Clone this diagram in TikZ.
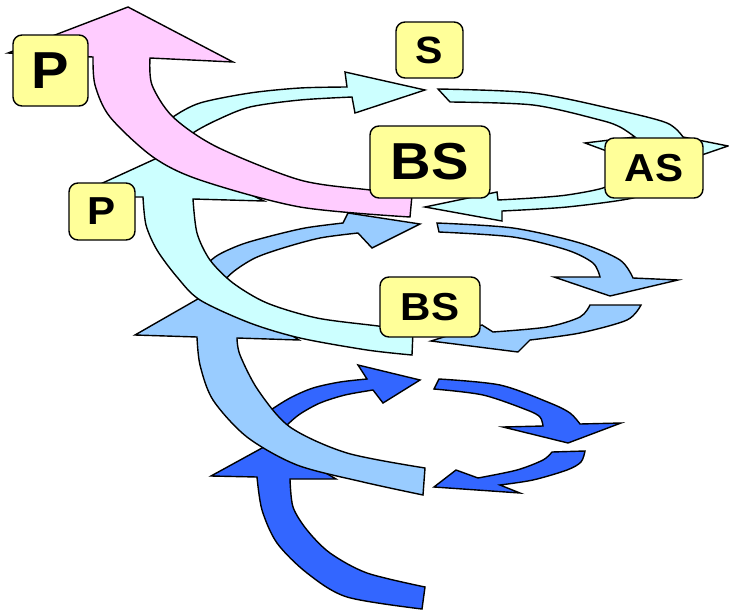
\documentclass[tikz,border=0pt]{standalone}
\usepackage{fontspec}
\setmainfont{Liberation Sans}
\newfontfamily\lblfont{Liberation Sans}[FakeStretch=1.08]
\definecolor{darkb}{HTML}{3366FF}
\definecolor{lightb}{HTML}{99CCFF}
\definecolor{cyanc}{HTML}{CCFFFF}
\definecolor{pinkc}{HTML}{FFCCFF}
\definecolor{boxy}{HTML}{FFFF99}
\begin{document}
\begin{tikzpicture}[x=1pt,y=-1pt,
  shp/.style={draw=black,line width=1.4pt,line join=miter,miter limit=10},
  lbl/.style={draw=black,fill=boxy,line width=1.4pt,rounded corners=9pt,inner sep=0pt}]
\useasboundingbox (0,0) rectangle (729,611);

% ---------- dark blue level ----------
\filldraw[shp,fill=darkb] plot[smooth] coordinates {(255,424) (268,412) (290,398) (313,388) (340,382) (367,379)}
  -- (358,365) -- (420,380) -- (383,403) -- (373,390)
  -- plot[smooth] coordinates {(373,390) (345,395) (320,403) (300,414) (287,425) (272,440)} -- cycle;
\filldraw[shp,fill=darkb] plot[smooth] coordinates {(439,379) (500,385) (550,403) (570,413) (580,424)}
  -- (621,423) -- (568,443) -- (503,427) -- (543,426)
  -- plot[smooth] coordinates {(543,426) (540,417) (527,410) (483,395) (434,389)} -- cycle;
\filldraw[shp,fill=darkb] (552,452) -- (585,451)
  -- plot[smooth] coordinates {(585,451) (581,462) (567,470) (533,480) (500,485)}
  -- (520,493) -- (434,487) -- (456,470) -- (478,478)
  -- plot[smooth] coordinates {(478,478) (517,470) (543,460) (552,452)} -- cycle;
\filldraw[shp,fill=darkb] plot[smooth] coordinates {(425,587) (367,573) (330,553) (307,530) (293,507) (290,479)}
  -- (336,479) -- (273,442) -- (211,476) -- (257,477)
  -- plot[smooth] coordinates {(257,477) (262,510) (277,543) (307,573) (347,597) (422,609)} -- cycle;

% ---------- light blue level ----------
\filldraw[shp,fill=lightb] plot[smooth] coordinates {(195,277) (215,257) (240,245) (267,237) (305,228) (343,223)}
  -- (348,213) -- (420,224) -- (372,248) -- (358,233)
  -- plot[smooth] coordinates {(358,233) (320,238) (283,248) (255,258) (233,272) (215,290)} -- cycle;
\filldraw[shp,fill=lightb] plot[smooth] coordinates {(437,223) (513,228) (580,243) (620,260) (633,278)}
  -- (678,280) -- (610,296) -- (554,277) -- (600,277)
  -- plot[smooth] coordinates {(600,277) (593,263) (567,250) (513,237) (439,232)} -- cycle;
\filldraw[shp,fill=lightb] (590,305) -- (641,305)
  -- plot[smooth] coordinates {(641,305) (627,320) (580,333) (530,340)}
  -- (518,352) -- (431,341) -- (482,325) -- (493,332)
  -- plot[smooth] coordinates {(493,332) (547,327) (580,317) (590,305)} -- cycle;
\filldraw[shp,fill=lightb] plot[smooth] coordinates {(425,468) (347,453) (290,427) (258,390) (240,355) (237,338)}
  -- (299,340) -- (217,288) -- (135,335) -- (197,337)
  -- plot[smooth] coordinates {(197,337) (200,365) (213,400) (247,437) (297,465) (363,482) (423,495)} -- cycle;

% ---------- cyan level ----------
\filldraw[shp,fill=cyanc] plot[smooth] coordinates {(158,132) (173,117) (200,103) (250,93) (300,88) (347,87)}
  -- (345,72) -- (425,90) -- (355,113) -- (352,97)
  -- plot[smooth] coordinates {(352,97) (300,100) (250,107) (217,120) (193,133) (178,148)} -- cycle;
\filldraw[shp,fill=cyanc] plot[smooth] coordinates {(438,89) (533,93) (617,110) (667,123) (683,137)}
  -- (728,146) -- (658,170) -- (585,143) -- (635,137)
  -- plot[smooth] coordinates {(635,137) (620,127) (600,120) (533,105) (450,102)} -- cycle;
\filldraw[shp,fill=cyanc] (628,176) -- (660,186)
  -- plot[smooth] coordinates {(660,186) (633,198) (567,207) (502,211)}
  -- (502,221) -- (425,207) -- (497,192) -- (498,200)
  -- plot[smooth] coordinates {(498,200) (533,198) (567,195) (603,188) (628,176)} -- cycle;
\filldraw[shp,fill=cyanc] plot[smooth] coordinates {(413,331) (378,326) (317,318) (267,303) (233,283) (210,260) (197,233) (193,199)}
  -- (264,201) -- (166,154) -- (72,197) -- (143,197)
  -- plot[smooth] coordinates {(143,197) (146,225) (157,250) (177,277) (200,300) (250,323) (300,338) (367,350) (412,355)} -- cycle;

% ---------- pink arrow ----------
\filldraw[shp,fill=pinkc] plot[smooth] coordinates {(412,195) (370,190) (300,180) (217,147) (173,117) (152,85) (150,58)}
  -- (233,62) -- (128,7) -- (8,53) -- (93,57)
  -- plot[smooth] coordinates {(93,57) (95,85) (110,117) (153,157) (200,180) (300,207) (410,217)} -- cycle;

% ---------- labels ----------
\node[lbl,minimum width=75pt,minimum height=71pt,font=\lblfont\bfseries\fontsize{52}{52}\selectfont] (pbig) at (50.5,70.5) {P};
\node[lbl,minimum width=66pt,minimum height=57pt,font=\lblfont\bfseries\fontsize{39}{39}\selectfont] (psmall) at (102,211.5) {P};
\node[lbl,minimum width=67pt,minimum height=56pt,font=\lblfont\bfseries\fontsize{38}{38}\selectfont] (s) at (429.5,50) {S};
\node[lbl,minimum width=120pt,minimum height=72pt,font=\lblfont\bfseries\fontsize{52}{52}\selectfont] (bsbig) at (430,162) {BS};
\node[lbl,minimum width=98pt,minimum height=60pt,font=\lblfont\bfseries\fontsize{39}{39}\selectfont] (as) at (654,168) {AS};
\node[lbl,minimum width=100pt,minimum height=60pt,font=\lblfont\bfseries\fontsize{39}{39}\selectfont] (bssmall) at (430,307) {BS};
\end{tikzpicture}
\end{document}
